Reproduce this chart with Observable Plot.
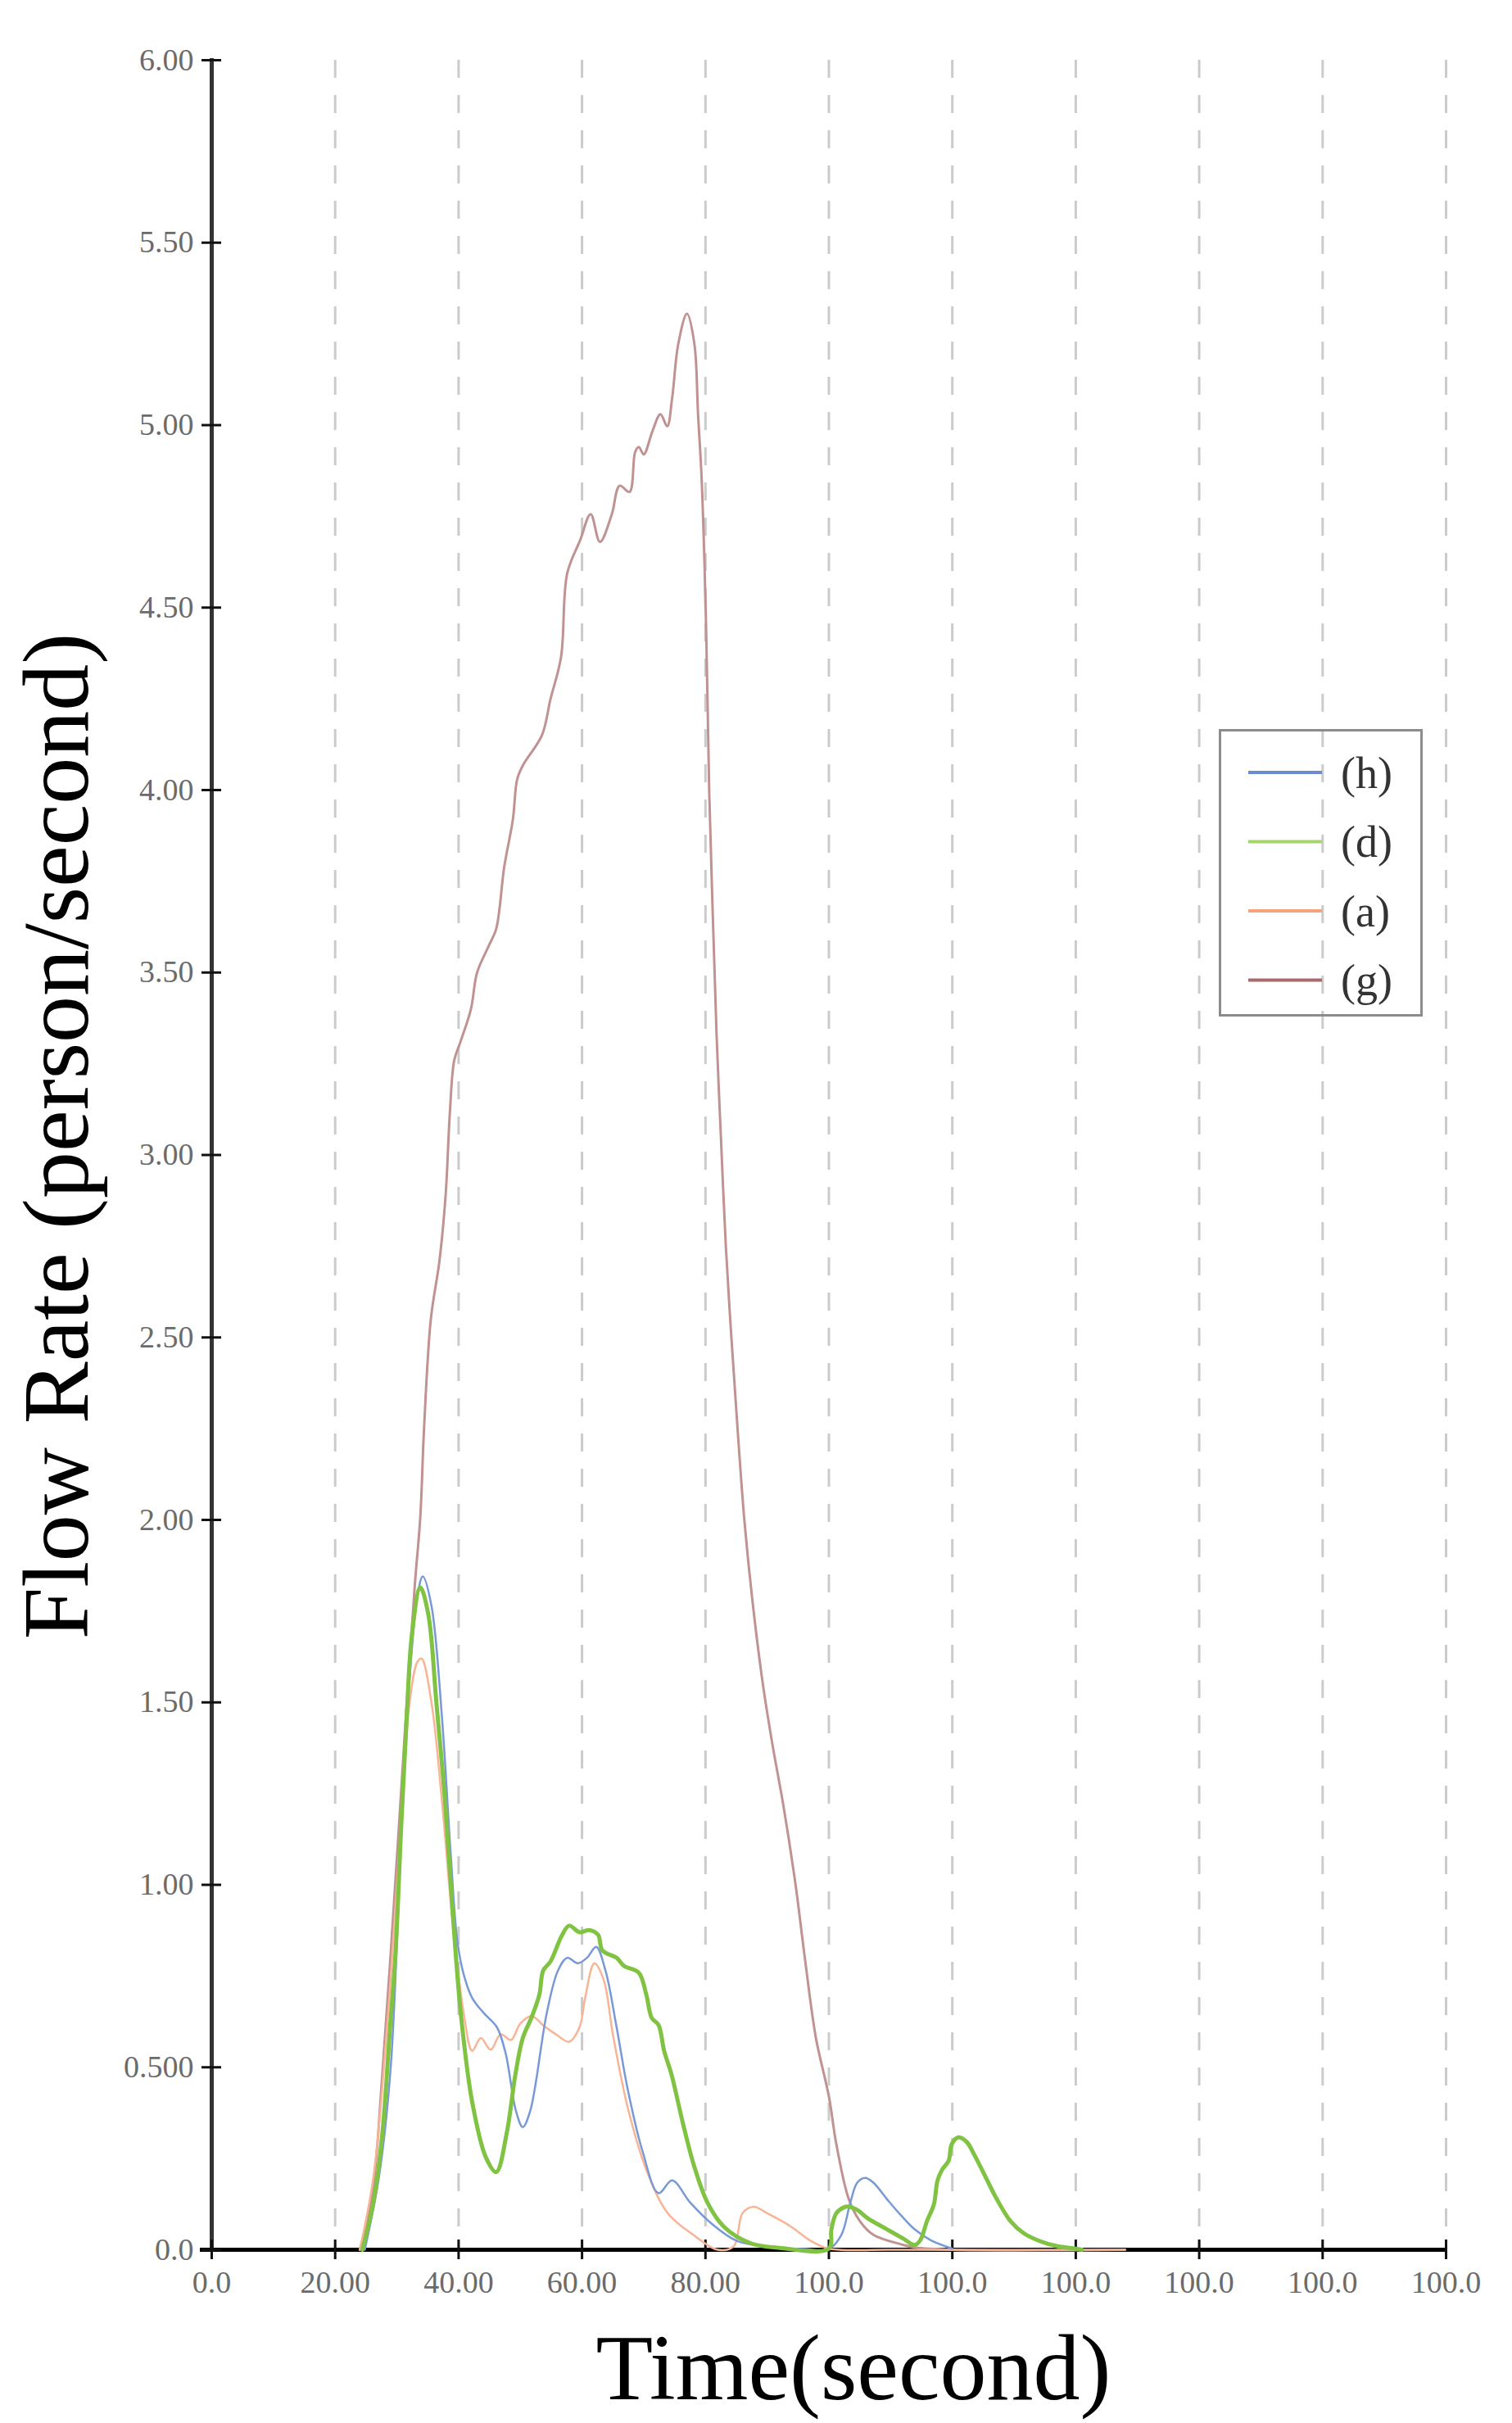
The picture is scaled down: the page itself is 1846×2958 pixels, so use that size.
<!DOCTYPE html>
<html>
<head>
<meta charset="utf-8">
<script src="https://cdn.jsdelivr.net/npm/d3@7"></script>
<script src="https://cdn.jsdelivr.net/npm/@observablehq/plot@0.6"></script>
<style>
  body { margin: 0; background: #fff; }
  #wrap { position: relative; width: 1846px; height: 2958px; }
  #legend { position: absolute; left: 1488px; top: 890px; width: 249px; height: 351px;
            box-sizing: border-box; border: 3px solid #8c8c8c; }
</style>
</head>
<body>
<div id="wrap"></div>
<script>
// ---- axis ticks ----
const xTicks = [0, 20, 40, 60, 80, 100, 120, 140, 160, 180, 200];
const xTickLabels = ["0.0", "20.00", "40.00", "60.00", "80.00", "100.0", "100.0", "100.0", "100.0", "100.0", "100.0"];
const yTicks = [0, 0.5, 1, 1.5, 2, 2.5, 3, 3.5, 4, 4.5, 5, 5.5, 6];
const yTickLabels = ["0.0", "0.500", "1.00", "1.50", "2.00", "2.50", "3.00", "3.50", "4.00", "4.50", "5.00", "5.50", "6.00"];

// ---- legend / series ----
const seriesNames = ["(h)", "(d)", "(a)", "(g)"];
const lineColors = ["#7899d6", "#80c242", "#f8b494", "#c09292"];
const legendColors = ["#6a8ccc", "#a5d46c", "#f4a37d", "#a86a6a"];

// ---- series (h) ----
const hTime = [24.8, 27.1, 29, 31.1, 32.4, 33.3, 34.2, 35.6, 37.3, 38.7, 39.8, 40.9, 42.2, 44, 46.2, 47.6, 49.3, 50.4, 51.6, 54.3, 56.1, 57.6, 59.3, 60.8, 62.3, 63.8, 65.6, 67.4, 69.8, 72.4, 74.6, 77.5, 81.1, 85, 90, 96, 100, 102, 103.5, 104.6, 105.9, 107.2, 109.4, 111.7, 113.9, 116.5, 120];
const hFlow = [0, 0.2, 0.5, 1.3, 1.64, 1.79, 1.845, 1.765, 1.46, 1.09, 0.845, 0.75, 0.69, 0.65, 0.61, 0.54, 0.38, 0.336, 0.38, 0.65, 0.765, 0.8, 0.785, 0.8, 0.83, 0.765, 0.61, 0.44, 0.27, 0.155, 0.19, 0.13, 0.07, 0.025, 0.008, 0.002, 0.002, 0.04, 0.131, 0.184, 0.197, 0.184, 0.139, 0.094, 0.056, 0.026, 0.003];

// ---- series (d) ----
const dTime = [24.4, 26.2, 27.6, 28.9, 29.8, 30.7, 31.6, 32.4, 33.8, 35.1, 36.4, 37.8, 39.1, 40.4, 42.2, 44.4, 46.1, 47.8, 49.2, 50.4, 51.9, 53.1, 53.7, 54.9, 56.7, 57.9, 59.6, 61.1, 62.6, 63.3, 65.6, 66.8, 69.2, 70.4, 71.3, 72.4, 73.3, 74.5, 76.3, 78.1, 80.3, 83, 87.3, 92, 100, 100.4, 101.2, 102.4, 103.3, 104.6, 106.3, 109.4, 112.1, 113.9, 114.8, 115.9, 117, 117.6, 118.3, 119.4, 119.9, 121, 122.3, 123.6, 125.4, 127.2, 129.4, 131.6, 134.3, 136.9, 140, 141];
const dFlow = [0, 0.13, 0.31, 0.61, 0.82, 1.16, 1.46, 1.68, 1.815, 1.74, 1.5, 1.23, 0.91, 0.64, 0.405, 0.254, 0.213, 0.32, 0.48, 0.58, 0.64, 0.7, 0.765, 0.79, 0.86, 0.888, 0.87, 0.876, 0.863, 0.82, 0.8, 0.778, 0.759, 0.7, 0.635, 0.616, 0.545, 0.48, 0.35, 0.233, 0.13, 0.063, 0.018, 0.005, 0.003, 0.056, 0.1, 0.116, 0.118, 0.109, 0.086, 0.056, 0.03, 0.013, 0.026, 0.079, 0.124, 0.19, 0.218, 0.244, 0.289, 0.308, 0.296, 0.259, 0.199, 0.139, 0.079, 0.045, 0.023, 0.01, 0.003, 0];

// ---- series (a) ----
const aTime = [24, 26.2, 28.4, 30.2, 32, 33.3, 34, 35.6, 37.3, 39.1, 40.9, 42.2, 43.6, 45.2, 46.8, 48.5, 50, 51.9, 53.7, 55.8, 57.9, 59.6, 60.5, 62, 63.5, 65, 67.4, 70.4, 73.9, 78.1, 82, 84.6, 86, 87.8, 90, 93.9, 97, 100, 110, 148];
const aFlow = [0, 0.2, 0.61, 1.05, 1.49, 1.61, 1.62, 1.5, 1.23, 0.886, 0.64, 0.545, 0.58, 0.548, 0.59, 0.575, 0.62, 0.64, 0.615, 0.59, 0.57, 0.61, 0.69, 0.785, 0.74, 0.59, 0.39, 0.22, 0.1, 0.04, 0.0, 0.01, 0.1, 0.118, 0.1, 0.063, 0.025, 0.003, 0, 0];

// ---- series (g) ----
const gTime = [24, 26, 27.6, 29.8, 31.6, 32.9, 33.8, 34.4, 35.5, 36.9, 37.9, 38.6, 39.3, 40.3, 42, 43, 45, 46.1, 47.4, 48.8, 49.5, 50.5, 53.5, 54.9, 56.6, 57.6, 59.7, 61.4, 62.9, 64.8, 66.1, 67.7, 68.6, 69.2, 70, 71.4, 72.7, 73.8, 74.6, 75.6, 77, 78.2, 78.8, 79.4, 80.1, 80.6, 81.2, 81.8, 82.5, 83.3, 84.2, 85.2, 86.3, 87.6, 89.3, 90.9, 92.6, 94.6, 96.1, 97.9, 100, 101.2, 103.2, 105, 107.2, 111.7, 114, 120, 148];
const gFlow = [0, 0.15, 0.47, 1.02, 1.5, 1.82, 2.01, 2.25, 2.55, 2.71, 2.89, 3.12, 3.26, 3.31, 3.4, 3.5, 3.577, 3.62, 3.79, 3.92, 4.03, 4.07, 4.15, 4.25, 4.365, 4.594, 4.685, 4.756, 4.68, 4.754, 4.834, 4.817, 4.926, 4.94, 4.92, 4.983, 5.03, 4.997, 5.074, 5.223, 5.305, 5.223, 5.03, 4.845, 4.45, 4.0, 3.65, 3.33, 3.05, 2.75, 2.5, 2.25, 2.0, 1.78, 1.55, 1.38, 1.22, 1.0, 0.8, 0.58, 0.42, 0.29, 0.14, 0.079, 0.041, 0.015, 0.006, 0, 0];

// ---- build tables ----
const rows = (t, v) => t.map((x, i) => ({time: x, flow: v[i]}));
const hData = rows(hTime, hFlow);
const dData = rows(dTime, dFlow);
const aData = rows(aTime, aFlow);
const gData = rows(gTime, gFlow);

const xLabel = new Map(xTicks.map((t, i) => [t, xTickLabels[i]]));
const yLabel = new Map(yTicks.map((t, i) => [t, yTickLabels[i]]));

const serif = "'Liberation Serif', 'Times New Roman', serif";

const chart = Plot.plot({
  width: 1846,
  height: 2958,
  marginLeft: 258,
  marginRight: 81,
  marginTop: 73,
  marginBottom: 212,
  style: {fontFamily: serif, fontSize: "38px", color: "#6b6b6b", background: "white", maxWidth: "none"},
  x: {domain: [0, 200]},
  y: {domain: [0, 6]},
  marks: [
    // dashed vertical grid
    Plot.ruleX(xTicks.slice(1), {y1: 6, y2: 0, stroke: "#cbcbcb", strokeWidth: 3, strokeDasharray: "22 21"}),
    // axis lines
    Plot.ruleX([0], {y1: 6, y2: 0, stroke: "#333", strokeWidth: 5, insetTop: -2}),
    Plot.ruleY([0], {x1: 0, x2: 200, stroke: "#000", strokeWidth: 5, insetLeft: -14}),
    // crossing ticks
    Plot.ruleX(xTicks, {y1: 0, y2: 0, insetTop: -12, insetBottom: -12, stroke: "#111", strokeWidth: 3}),
    Plot.ruleY(yTicks, {x1: 0, x2: 0, insetLeft: -12, insetRight: -12, stroke: "#111", strokeWidth: 3}),
    // series
    Plot.line(gData, {x: "time", y: "flow", stroke: lineColors[3], strokeWidth: 3, curve: "catmull-rom"}),
    Plot.line(aData, {x: "time", y: "flow", stroke: lineColors[2], strokeWidth: 2.5, curve: "catmull-rom"}),
    Plot.line(hData, {x: "time", y: "flow", stroke: lineColors[0], strokeWidth: 2.5, curve: "catmull-rom"}),
    Plot.line(dData, {x: "time", y: "flow", stroke: lineColors[1], strokeWidth: 5, curve: "catmull-rom"}),
    // tick labels
    Plot.axisX({ticks: xTicks, tickSize: 0, tickPadding: 26, tickFormat: d => xLabel.get(d), fontSize: 38, label: null}),
    Plot.axisY({ticks: yTicks, tickSize: 0, tickPadding: 22, tickFormat: d => yLabel.get(d), fontSize: 38, label: null}),
    // axis titles
    Plot.text(["Time(second)"], {text: d => d, frameAnchor: "bottom", textAnchor: "middle", lineAnchor: "middle",
      dx: 30, dy: 146, fontSize: 114, fill: "#000"}),
    Plot.text(["Flow Rate (person/second)"], {text: d => d, frameAnchor: "left", textAnchor: "middle", lineAnchor: "middle",
      rotate: -90, dx: -188, dy: -23, fontSize: 114, fill: "#000"})
  ]
});

const wrap = document.getElementById("wrap");
wrap.appendChild(chart);

// ---- legend ----
const legend = d3.select(wrap).append("div").attr("id", "legend");
const lsvg = legend.append("svg").attr("width", 243).attr("height", 345)
  .style("position", "absolute").style("left", "0px").style("top", "0px").style("overflow", "visible");
seriesNames.forEach((name, i) => {
  const cy = 50 + i * 84.5;
  lsvg.append("line").attr("x1", 33).attr("x2", 123).attr("y1", cy).attr("y2", cy)
    .attr("stroke", legendColors[i]).attr("stroke-width", 4);
  lsvg.append("text").attr("x", 146).attr("y", cy).attr("dy", "0.35em")
    .attr("font-family", serif).attr("font-size", 54).attr("fill", "#333").text(name);
});
</script>
</body>
</html>
